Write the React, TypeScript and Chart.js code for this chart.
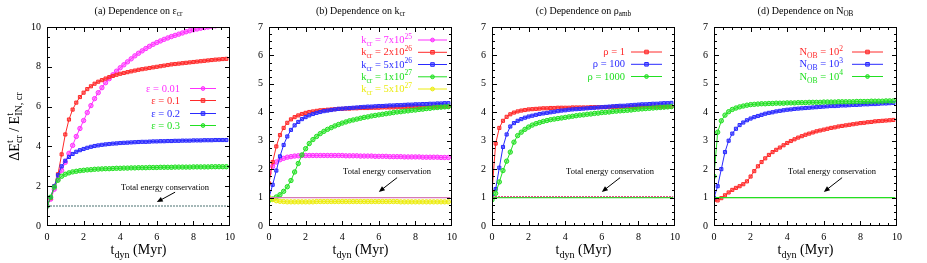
import React, { useEffect, useRef } from "react";
import { Chart, registerables } from "chart.js";

Chart.register(...registerables);

const FONT = '"Liberation Serif", "Times New Roman", serif';

// shared time axis (Myr)
const T = [0,0.2,0.4,0.6,0.8,1,1.2,1.4,1.6,1.8,2,2.2,2.4,2.6,2.8,3,3.2,3.4,3.6,3.8,4,4.2,4.4,4.6,4.8,5,5.2,5.4,5.6,5.8,6,6.2,6.4,6.6,6.8,7,7.2,7.4,7.6,7.8,8,8.2,8.4,8.6,8.8,9,9.2,9.4,9.6,9.8];

// (a) dependence on epsilon_cr
const A_EPS001 = [1.00,1.35,1.85,2.35,2.80,3.20,3.65,4.05,4.50,4.90,
  5.30,5.70,6.05,6.40,6.70,6.95,7.20,7.40,7.60,7.78,
  7.95,8.10,8.25,8.40,8.55,8.68,8.80,8.92,9.03,9.13,
  9.22,9.30,9.38,9.45,9.52,9.58,9.64,9.70,9.76,9.81,
  9.86,9.90,9.94,9.97,10.00,10.03,10.06,10.09,10.12,10.15];
const A_EPS01 = [1.00,1.40,2.00,2.60,3.60,4.60,5.35,5.85,6.20,6.48,
  6.70,6.88,7.02,7.15,7.25,7.33,7.41,7.48,7.54,7.60,
  7.65,7.69,7.73,7.77,7.81,7.85,7.88,7.91,7.94,7.97,
  8.00,8.03,8.06,8.09,8.12,8.14,8.16,8.18,8.20,8.22,
  8.24,8.26,8.28,8.30,8.32,8.34,8.36,8.37,8.39,8.40];
const A_EPS02 = [1.00,1.45,2.00,2.55,3.00,3.28,3.47,3.62,3.73,3.81,
  3.87,3.93,3.98,4.02,4.05,4.08,4.10,4.12,4.14,4.15,
  4.17,4.18,4.19,4.20,4.21,4.22,4.23,4.23,4.24,4.25,
  4.25,4.26,4.26,4.27,4.27,4.28,4.28,4.29,4.29,4.29,
  4.30,4.30,4.30,4.31,4.31,4.31,4.32,4.32,4.32,4.32];
const A_EPS03 = [1.00,1.45,1.95,2.30,2.50,2.60,2.67,2.72,2.75,2.78,
  2.80,2.82,2.83,2.85,2.86,2.87,2.88,2.88,2.89,2.90,
  2.90,2.91,2.91,2.92,2.92,2.93,2.93,2.93,2.94,2.94,
  2.94,2.95,2.95,2.95,2.95,2.96,2.96,2.96,2.96,2.96,
  2.97,2.97,2.97,2.97,2.97,2.98,2.98,2.98,2.98,2.98];

// (b) dependence on k_cr
const B_K7E25 = [1.85,2.10,2.25,2.33,2.38,2.42,2.44,2.46,2.47,2.48,
  2.48,2.48,2.48,2.48,2.48,2.48,2.48,2.48,2.48,2.48,
  2.48,2.47,2.47,2.47,2.47,2.46,2.46,2.46,2.46,2.45,
  2.45,2.45,2.45,2.44,2.44,2.44,2.44,2.43,2.43,2.43,
  2.43,2.43,2.42,2.42,2.42,2.42,2.42,2.41,2.41,2.41];
const B_K2E26 = [1.50,2.25,2.80,3.20,3.45,3.63,3.75,3.83,3.89,3.94,
  3.98,4.01,4.03,4.05,4.07,4.08,4.09,4.10,4.11,4.12,
  4.12,4.13,4.13,4.14,4.14,4.15,4.15,4.15,4.16,4.16,
  4.16,4.17,4.17,4.17,4.17,4.18,4.18,4.18,4.18,4.18,
  4.19,4.19,4.19,4.19,4.19,4.20,4.20,4.20,4.20,4.20];
const B_K5E26 = [1.00,1.45,1.95,2.45,2.85,3.15,3.38,3.54,3.66,3.76,
  3.83,3.89,3.94,3.98,4.01,4.04,4.06,4.08,4.10,4.12,
  4.13,4.14,4.15,4.16,4.17,4.18,4.19,4.20,4.20,4.21,
  4.22,4.22,4.23,4.24,4.24,4.25,4.25,4.26,4.27,4.27,
  4.28,4.28,4.29,4.29,4.30,4.30,4.31,4.31,4.32,4.32];
const B_K1E27 = [0.90,0.95,1.02,1.10,1.22,1.38,1.60,1.90,2.20,2.50,
  2.72,2.90,3.04,3.15,3.25,3.33,3.40,3.46,3.52,3.57,
  3.62,3.66,3.70,3.73,3.76,3.79,3.82,3.84,3.87,3.89,
  3.91,3.93,3.95,3.97,3.99,4.01,4.02,4.04,4.05,4.07,
  4.08,4.10,4.11,4.13,4.14,4.16,4.17,4.18,4.19,4.20];
const B_K5E27 = [1.00,0.93,0.89,0.87,0.86,0.85,0.85,0.85,0.85,0.85,
  0.85,0.85,0.85,0.86,0.86,0.86,0.86,0.86,0.86,0.86,
  0.86,0.86,0.86,0.86,0.86,0.86,0.86,0.86,0.86,0.86,
  0.86,0.86,0.86,0.86,0.86,0.86,0.85,0.85,0.85,0.85,
  0.85,0.85,0.85,0.85,0.85,0.85,0.85,0.85,0.85,0.85];

// (c) dependence on rho_amb
const C_RHO1 = [1.20,2.90,3.45,3.70,3.84,3.93,3.99,4.03,4.06,4.08,
  4.10,4.11,4.12,4.13,4.14,4.14,4.15,4.15,4.16,4.16,
  4.16,4.16,4.17,4.17,4.17,4.17,4.17,4.18,4.18,4.18,
  4.18,4.18,4.18,4.19,4.19,4.19,4.19,4.19,4.19,4.19,
  4.20,4.20,4.20,4.20,4.20,4.20,4.20,4.20,4.20,4.20];
const C_RHO100 = [1.05,1.30,2.05,2.78,3.22,3.50,3.62,3.70,3.76,3.81,
  3.85,3.88,3.91,3.94,3.96,3.98,4.00,4.02,4.04,4.06,
  4.07,4.09,4.10,4.11,4.12,4.13,4.14,4.15,4.16,4.17,
  4.18,4.19,4.20,4.21,4.22,4.23,4.23,4.24,4.25,4.26,
  4.27,4.28,4.28,4.29,4.30,4.30,4.31,4.32,4.32,4.33];
const C_RHO1000 = [0.92,1.15,1.55,1.95,2.28,2.60,2.95,3.18,3.30,3.40,
  3.48,3.55,3.60,3.64,3.68,3.71,3.74,3.76,3.78,3.80,
  3.82,3.84,3.86,3.88,3.90,3.91,3.93,3.94,3.96,3.97,
  3.99,4.00,4.01,4.03,4.04,4.05,4.06,4.07,4.08,4.10,
  4.11,4.12,4.13,4.14,4.15,4.16,4.17,4.18,4.19,4.20];

// (d) dependence on N_OB
const D_N1E2 = [0.92,0.90,0.98,1.08,1.18,1.27,1.34,1.40,1.47,1.57,
  1.74,1.93,2.10,2.25,2.38,2.50,2.60,2.68,2.76,2.84,
  2.92,2.99,3.05,3.11,3.16,3.21,3.25,3.29,3.33,3.36,
  3.39,3.42,3.45,3.47,3.50,3.52,3.54,3.56,3.58,3.60,
  3.62,3.63,3.65,3.66,3.68,3.69,3.70,3.71,3.72,3.73];
const D_N1E3 = [1.00,1.40,2.00,2.60,3.00,3.25,3.42,3.55,3.64,3.72,
  3.78,3.83,3.87,3.91,3.95,3.98,4.00,4.03,4.05,4.07,
  4.09,4.10,4.12,4.13,4.14,4.15,4.16,4.17,4.18,4.19,
  4.20,4.21,4.22,4.22,4.23,4.24,4.24,4.25,4.26,4.26,
  4.27,4.28,4.28,4.29,4.29,4.30,4.31,4.31,4.32,4.33];
const D_N1E4 = [1.75,3.30,3.70,3.90,4.02,4.10,4.15,4.19,4.22,4.25,
  4.27,4.28,4.29,4.30,4.30,4.31,4.31,4.32,4.32,4.32,
  4.33,4.33,4.33,4.34,4.34,4.34,4.35,4.35,4.35,4.35,
  4.36,4.36,4.36,4.36,4.37,4.37,4.37,4.37,4.37,4.38,
  4.38,4.38,4.38,4.39,4.39,4.39,4.39,4.40,4.40,4.40];

// total energy conservation reference lines
const CONS_T = [0, 9.9];
const CONS_ONE = [1, 1];
const CONS_C_RED = [1.03, 1.03];

const X_TICK_STEP = 2;
const X_MINOR = 0.5;

const MAGENTA = "#ff30ff";
const RED = "#ff2a2a";
const BLUE = "#2a2aff";
const GREEN = "#22e022";
const YELLOW = "#ecec10";

const lighten = (c: string) => c + "88";

type Series = { label: string; color: string; data: number[]; pt: string };
type Cons = { color: string; values: number[]; width: number; dash: number[] };
type Panel = {
  canvasLeft: number;
  title: string;
  yMax: number;
  yStep: number;
  yMinor: number;
  yTitle: boolean;
  series: Series[];
  cons: Cons[];
  legend: { textRight: number; x1: number; x2: number; rows: number[] };
};

const PANELS: Panel[] = [
  {
    canvasLeft: 0,
    title: "(a) Dependence on ε_{cr}",
    yMax: 10, yStep: 2, yMinor: 0.5, yTitle: true,
    series: [
      { label: "ε = 0.01", color: MAGENTA, data: A_EPS001, pt: "circle" },
      { label: "ε = 0.1", color: RED, data: A_EPS01, pt: "rect" },
      { label: "ε = 0.2", color: BLUE, data: A_EPS02, pt: "rect" },
      { label: "ε = 0.3", color: GREEN, data: A_EPS03, pt: "circle" },
    ],
    cons: [{ color: "#86a0a0", values: CONS_ONE, width: 1.5, dash: [2, 1] }],
    legend: { textRight: 180, x1: 190, x2: 216, rows: [88, 100, 113, 125] },
  },
  {
    canvasLeft: 222,
    title: "(b) Dependence on k_{cr}",
    yMax: 7, yStep: 1, yMinor: 0.25, yTitle: false,
    series: [
      { label: "k_{cr} = 7x10^{25}", color: MAGENTA, data: B_K7E25, pt: "circle" },
      { label: "k_{cr} = 2x10^{26}", color: RED, data: B_K2E26, pt: "rect" },
      { label: "k_{cr} = 5x10^{26}", color: BLUE, data: B_K5E26, pt: "rect" },
      { label: "k_{cr} = 1x10^{27}", color: GREEN, data: B_K1E27, pt: "circle" },
      { label: "k_{cr} = 5x10^{27}", color: YELLOW, data: B_K5E27, pt: "circle" },
    ],
    cons: [{ color: "#d67ab8", values: CONS_ONE, width: 1.2, dash: [] }],
    legend: { textRight: 412, x1: 418, x2: 447, rows: [39.5, 51.8, 64, 76.3, 88.5] },
  },
  {
    canvasLeft: 445,
    title: "(c) Dependence on ρ_{amb}",
    yMax: 7, yStep: 1, yMinor: 0.25, yTitle: false,
    series: [
      { label: "ρ = 1", color: RED, data: C_RHO1, pt: "rect" },
      { label: "ρ = 100", color: BLUE, data: C_RHO100, pt: "rect" },
      { label: "ρ = 1000", color: GREEN, data: C_RHO1000, pt: "circle" },
    ],
    cons: [
      { color: GREEN, values: CONS_ONE, width: 1.2, dash: [] },
      { color: "#e0508a", values: CONS_C_RED, width: 1.2, dash: [2, 1] },
    ],
    legend: { textRight: 625, x1: 631, x2: 662, rows: [51.5, 63.8, 76] },
  },
  {
    canvasLeft: 667,
    title: "(d) Dependence on N_{OB}",
    yMax: 7, yStep: 1, yMinor: 0.25, yTitle: false,
    series: [
      { label: "N_{OB} = 10^{2}", color: RED, data: D_N1E2, pt: "rect" },
      { label: "N_{OB} = 10^{3}", color: BLUE, data: D_N1E3, pt: "rect" },
      { label: "N_{OB} = 10^{4}", color: GREEN, data: D_N1E4, pt: "circle" },
    ],
    cons: [
      { color: RED, values: CONS_ONE, width: 1, dash: [] },
      { color: GREEN, values: CONS_ONE, width: 1.3, dash: [] },
    ],
    legend: { textRight: 843, x1: 852, x2: 883, rows: [51.5, 63.8, 76] },
  },
];

type Seg = { kind: "n" | "sub" | "sup" | "stack"; text?: string; sup?: string; sub?: string };

function parseRich(s: string): Seg[] {
  const out: Seg[] = [];
  let buf = "";
  let i = 0;
  const flush = () => {
    if (buf) { out.push({ kind: "n", text: buf }); buf = ""; }
  };
  while (i < s.length) {
    const c = s[i];
    if ((c === "^" || c === "_") && s[i + 1] === "{") {
      const j = s.indexOf("}", i + 2);
      const inner = s.slice(i + 2, j);
      flush();
      const kind = c === "^" ? "sup" : "sub";
      const prev = out[out.length - 1];
      if (prev && ((prev.kind === "sup" && kind === "sub") || (prev.kind === "sub" && kind === "sup"))) {
        out[out.length - 1] = {
          kind: "stack",
          sup: prev.kind === "sup" ? prev.text : inner,
          sub: prev.kind === "sub" ? prev.text : inner,
        };
      } else {
        out.push({ kind, text: inner });
      }
      i = j + 1;
    } else {
      buf += c;
      i++;
    }
  }
  flush();
  return out;
}

function drawRich(ctx: CanvasRenderingContext2D, s: string, x: number, y: number, size: number, align: string, color: string) {
  const segs = parseRich(s);
  const small = size * 0.72;
  const fN = `${size}px ${FONT}`;
  const fS = `${small}px ${FONT}`;
  const widthOf = (sg: Seg) => {
    if (sg.kind === "n") { ctx.font = fN; return ctx.measureText(sg.text!).width; }
    ctx.font = fS;
    if (sg.kind === "stack") return Math.max(ctx.measureText(sg.sup!).width, ctx.measureText(sg.sub!).width);
    return ctx.measureText(sg.text!).width;
  };
  const widths = segs.map(widthOf);
  const total = widths.reduce((a, b) => a + b, 0);
  let cx = align === "center" ? x - total / 2 : align === "right" ? x - total : x;
  ctx.fillStyle = color;
  ctx.textAlign = "left";
  ctx.textBaseline = "alphabetic";
  segs.forEach((sg, k) => {
    if (sg.kind === "n") {
      ctx.font = fN;
      ctx.fillText(sg.text!, cx, y);
    } else {
      ctx.font = fS;
      if (sg.kind === "sub") ctx.fillText(sg.text!, cx, y + size * 0.28);
      else if (sg.kind === "sup") ctx.fillText(sg.text!, cx, y - size * 0.42);
      else {
        ctx.fillText(sg.sup!, cx, y - size * 0.42);
        ctx.fillText(sg.sub!, cx, y + size * 0.28);
      }
    }
    cx += widths[k];
  });
}

function drawMarker(ctx: CanvasRenderingContext2D, style: string, x: number, y: number, color: string) {
  ctx.beginPath();
  if (style === "rect") ctx.rect(x - 1.8, y - 1.8, 3.6, 3.6);
  else ctx.arc(x, y, 1.9, 0, Math.PI * 2);
  ctx.fillStyle = lighten(color);
  ctx.fill();
  ctx.strokeStyle = color;
  ctx.lineWidth = 1;
  ctx.stroke();
}

function makeDecor(p: Panel) {
  return {
    id: "decor",
    afterDraw(chart: any) {
      const { ctx, chartArea: ca, scales } = chart;
      const xs = scales.x;
      const ys = scales.y;
      const cl = p.canvasLeft;
      ctx.save();
      // frame
      ctx.strokeStyle = "#000";
      ctx.lineWidth = 1;
      ctx.setLineDash([]);
      ctx.strokeRect(Math.round(ca.left) + 0.5, Math.round(ca.top) + 0.5, Math.round(ca.right - ca.left) - 1, Math.round(ca.bottom - ca.top) - 1);
      // x ticks (inward, mirrored)
      const nx = Math.round(10 / X_MINOR);
      const perX = Math.round(X_TICK_STEP / X_MINOR);
      ctx.beginPath();
      for (let k = 1; k < nx; k++) {
        const px = Math.round(xs.getPixelForValue(k * X_MINOR)) + 0.5;
        const len = k % perX === 0 ? 5 : 3;
        ctx.moveTo(px, ca.bottom); ctx.lineTo(px, ca.bottom - len);
        ctx.moveTo(px, ca.top); ctx.lineTo(px, ca.top + len);
      }
      const ny = Math.round(p.yMax / p.yMinor);
      const perY = Math.round(p.yStep / p.yMinor);
      for (let k = 1; k < ny; k++) {
        const py = Math.round(ys.getPixelForValue(k * p.yMinor)) + 0.5;
        const len = k % perY === 0 ? 5 : 3;
        ctx.moveTo(ca.left, py); ctx.lineTo(ca.left + len, py);
        ctx.moveTo(ca.right, py); ctx.lineTo(ca.right - len, py);
      }
      ctx.stroke();

      const cxp = (ca.left + ca.right) / 2;
      // title
      drawRich(ctx, p.title, cxp, 13.5, 10, "center", "#000");
      // x title
      drawRich(ctx, "t_{dyn} (Myr)", cxp, 254, 14, "center", "#000");
      // y title
      if (p.yTitle) {
        ctx.save();
        ctx.translate(18.5, (ca.top + ca.bottom) / 2);
        ctx.rotate(-Math.PI / 2);
        drawRich(ctx, "ΔE^{t}_{cr} / E^{t}_{IN, cr}", 0, 0, 14, "center", "#000");
        ctx.restore();
      }
      // legend
      p.series.forEach((s, i) => {
        const ry = p.legend.rows[i];
        drawRich(ctx, s.label, p.legend.textRight - cl, ry + 3.6, 10.5, "right", s.color);
        ctx.beginPath();
        ctx.strokeStyle = s.color;
        ctx.lineWidth = 1;
        ctx.moveTo(p.legend.x1 - cl, ry + 0.5);
        ctx.lineTo(p.legend.x2 - cl, ry + 0.5);
        ctx.stroke();
        drawMarker(ctx, s.pt, (p.legend.x1 + p.legend.x2) / 2 - cl, ry + 0.5, s.color);
      });
      // annotation
      ctx.fillStyle = "#000";
      ctx.font = `8.5px ${FONT}`;
      ctx.textAlign = "center";
      ctx.textBaseline = "middle";
      ctx.fillText("Total energy conservation", xs.getPixelForValue(6.45), ys.getPixelForValue(1.9));
      const x0 = xs.getPixelForValue(7), y0 = ys.getPixelForValue(1.7);
      const x1 = xs.getPixelForValue(6), y1 = ys.getPixelForValue(1.2);
      const ang = Math.atan2(y1 - y0, x1 - x0);
      ctx.strokeStyle = "#000";
      ctx.lineWidth = 1;
      ctx.beginPath();
      ctx.moveTo(x0, y0);
      ctx.lineTo(x1 - Math.cos(ang) * 3, y1 - Math.sin(ang) * 3);
      ctx.stroke();
      ctx.beginPath();
      ctx.moveTo(x1, y1);
      ctx.lineTo(x1 - Math.cos(ang) * 6 + Math.sin(ang) * 2.5, y1 - Math.sin(ang) * 6 - Math.cos(ang) * 2.5);
      ctx.lineTo(x1 - Math.cos(ang) * 6 - Math.sin(ang) * 2.5, y1 - Math.sin(ang) * 6 + Math.cos(ang) * 2.5);
      ctx.closePath();
      ctx.fill();
      ctx.restore();
    },
  };
}

function buildConfig(p: Panel): any {
  const n = p.series.length;
  const datasets: any[] = p.series.map((s, i) => ({
    label: s.label,
    data: T.map((t, k) => ({ x: t, y: s.data[k] })),
    borderColor: s.color,
    backgroundColor: lighten(s.color),
    borderWidth: 1,
    pointRadius: 2.2,
    pointStyle: s.pt,
    pointBorderWidth: 1,
    pointBorderColor: s.color,
    pointBackgroundColor: lighten(s.color),
    tension: 0,
    fill: false,
    order: -i,
  }));
  p.cons.forEach((c, j) => {
    datasets.push({
      label: "cons" + j,
      data: CONS_T.map((t, k) => ({ x: t, y: c.values[k] })),
      borderColor: c.color,
      borderWidth: c.width,
      borderDash: c.dash,
      pointRadius: 0,
      fill: false,
      order: -n - 1 - j,
    });
  });
  const tickFont = { family: FONT, size: 10 };
  return {
    type: "line",
    data: { datasets },
    options: {
      animation: false,
      responsive: false,
      devicePixelRatio: 1,
      events: [],
      layout: { padding: { top: 27, right: 9, left: 0, bottom: 0 } },
      plugins: { legend: { display: false }, tooltip: { enabled: false }, title: { display: false } },
      scales: {
        x: {
          type: "linear", min: 0, max: 10,
          ticks: { stepSize: X_TICK_STEP, font: tickFont, color: "#000", padding: 5, maxRotation: 0, autoSkip: false },
          grid: { display: false, drawTicks: false },
          border: { display: false },
          afterFit: (s: any) => { s.height = 37; },
        },
        y: {
          type: "linear", min: 0, max: p.yMax,
          ticks: { stepSize: p.yStep, font: tickFont, color: "#000", padding: 6, autoSkip: false },
          grid: { display: false, drawTicks: false },
          border: { display: false },
          afterFit: (s: any) => { s.width = 47; },
        },
      },
    },
    plugins: [makeDecor(p)],
  };
}

function PanelChart({ p }: { p: Panel }) {
  const ref = useRef<HTMLCanvasElement | null>(null);
  useEffect(() => {
    if (!ref.current) return;
    const chart = new Chart(ref.current, buildConfig(p));
    return () => chart.destroy();
  }, [p]);
  return (
    <canvas
      ref={ref}
      width={240}
      height={263}
      style={{ position: "absolute", left: p.canvasLeft, top: 0, width: 240, height: 263 }}
    />
  );
}

export default function App() {
  return (
    <div style={{ position: "absolute", left: 0, top: 0, width: 927, height: 263, background: "#fff", overflow: "hidden" }}>
      {PANELS.map((p, i) => (
        <PanelChart key={i} p={p} />
      ))}
    </div>
  );
}
